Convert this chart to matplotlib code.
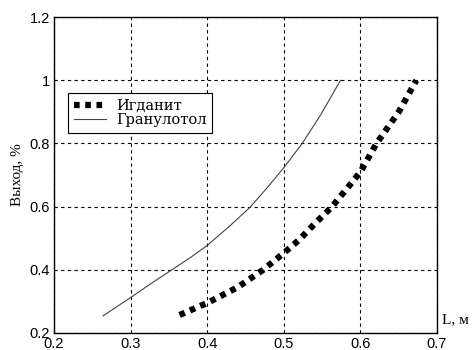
import matplotlib
matplotlib.use("Agg")
import matplotlib.pyplot as plt

# Гранулотол
gran_x = [0.264, 0.300, 0.330, 0.354, 0.380, 0.400, 0.430, 0.456,
          0.478, 0.500, 0.524, 0.548, 0.574]
gran_y = [0.254, 0.312, 0.362, 0.400, 0.442, 0.477, 0.540, 0.598,
          0.659, 0.723, 0.800, 0.890, 1.000]

# Игданит
igd_x = [0.364, 0.400, 0.440, 0.473, 0.500, 0.520, 0.540, 0.563, 0.585,
         0.600, 0.621, 0.650, 0.673]
igd_y = [0.257, 0.295, 0.345, 0.400, 0.453, 0.495, 0.545, 0.600, 0.665,
         0.710, 0.800, 0.900, 1.000]

xticks = [0.2, 0.3, 0.4, 0.5, 0.6, 0.7]
yticks = [0.2, 0.4, 0.6, 0.8, 1.0, 1.2]
ytick_labels = ["0.2", "0.4", "0.6", "0.8", "1", "1.2"]

fig = plt.figure(figsize=(4.73, 3.5), dpi=100)
ax = fig.add_axes([0.114, 0.0486, 0.81, 0.9025])

ax.plot(igd_x, igd_y, color="black", linewidth=4.5, dashes=(0.9, 0.9),
        label="Игданит")
ax.plot(gran_x, gran_y, color="#444444", linewidth=0.8, label="Гранулотол")

ax.set_xlim(0.2, 0.7)
ax.set_ylim(0.2, 1.2)
ax.set_xticks(xticks)
ax.set_yticks(yticks)
ax.set_yticklabels(ytick_labels)
ax.tick_params(direction="in", length=0, labelsize=10.5, pad=3)
for lbl in ax.get_xticklabels() + ax.get_yticklabels():
    lbl.set_family("Liberation Sans")

ax.grid(True, color="black", linestyle=(0, (3, 3)), linewidth=0.8)
for spine in ax.spines.values():
    spine.set_linewidth(1.0)

ax.set_ylabel("Выход, %", family="Liberation Serif", fontsize=11, labelpad=4)
ax.text(1.012, 0.02, "L, м", transform=ax.transAxes, family="Liberation Serif",
        fontsize=11, ha="left", va="bottom")

leg = ax.legend(loc="upper left", bbox_to_anchor=(0.036, 0.76),
                prop={"family": "DejaVu Serif", "size": 10.5},
                fancybox=False, edgecolor="black", framealpha=1,
                handlelength=2.2, borderpad=0.4, labelspacing=0.05,
                handletextpad=0.7, borderaxespad=0)
leg.get_frame().set_linewidth(0.8)

fig.savefig("out.png", dpi=100, facecolor="white")
